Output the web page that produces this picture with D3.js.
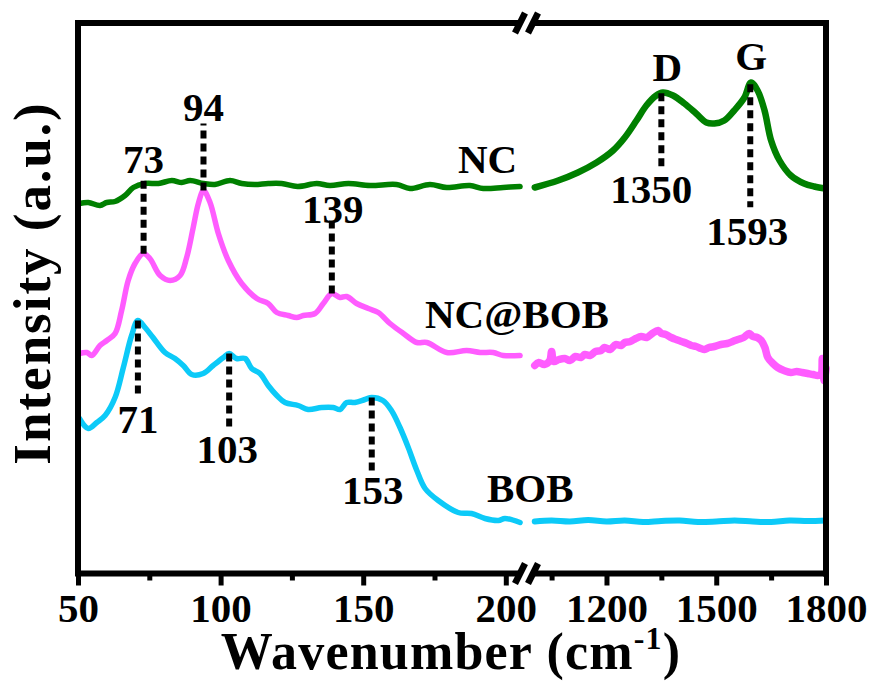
<!DOCTYPE html>
<html>
<head>
<meta charset="utf-8">
<script src="https://cdn.jsdelivr.net/npm/d3@7"></script>
<style>
  body { margin: 0; background: #fff; }
  svg text { font-family: "Times New Roman", Times, "Liberation Serif", serif; font-weight: bold; fill: #000; }
</style>
</head>
<body>
<svg id="chart" width="872" height="684"></svg>
<script>
// ---- Raman spectra (intensity in arbitrary units, curves already offset) ----
// Low-wavenumber window (50-205 cm-1)
const ncLowW = [50.5, 53.6, 57.7, 60.1, 63, 66.5, 69.4, 73.5, 78.2, 82.9, 86.4, 89.3, 94, 98, 103.3, 107.4, 112, 116.7, 121.4, 127, 133.7, 138.3, 144.8, 152.4, 161.7, 166.4, 173.4, 179.3, 187.4, 192.1, 199.1, 205];
const ncLowI = [370, 371, 368, 371, 372, 378, 386, 390, 390, 393, 391, 393, 390, 389, 393, 390, 389, 390, 390, 387, 390, 388, 390, 388, 389, 385, 389, 386, 388, 385, 386, 387];

const ncbobLowW = [50.5, 53.1, 54.8, 57.7, 60.1, 63, 65.3, 67.6, 70, 72.9, 75.2, 78.8, 82.3, 85.8, 88.1, 90.4, 92.2, 94, 96.3, 99.2, 102.7, 107.4, 112.7, 116.7, 119.7, 123.7, 126.7, 129, 133.1, 136, 139, 141.9, 144.2, 147.7, 151.8, 155.3, 159.4, 164.1, 168.8, 172.3, 179.3, 186.3, 191, 195.6, 199.1, 205];
const ncbobLowI = [220, 221, 218, 228, 233, 240, 263, 293, 310, 320, 315, 298, 293, 298, 316, 346, 370, 383, 371, 340, 313, 290, 275, 270, 261, 258, 256, 258, 260, 270, 280, 276, 277, 270, 265, 261, 250, 240, 231, 231, 221, 223, 221, 221, 218, 218];

const bobLowW = [50.5, 53.6, 56.6, 59.5, 63, 65.9, 68.8, 71, 73.5, 76.3, 80.5, 84, 86.9, 89.9, 93.9, 97.4, 101, 103, 105.6, 108.6, 110.9, 113.8, 116.7, 119.7, 122.6, 127.2, 130.7, 135.4, 139.5, 141.9, 144.2, 147.1, 150.6, 153, 156.9, 159.9, 162.9, 165.8, 168.8, 171.7, 176.3, 183.3, 188, 192.7, 197.4, 199.7, 205];
const bobLowI = [155, 145, 151, 158, 176, 206, 238, 253, 246, 236, 221, 215, 208, 199, 200, 208, 216, 220, 215, 215, 205, 200, 188, 178, 171, 168, 164, 166, 166, 164, 171, 171, 174, 176, 173, 163, 146, 126, 103, 85, 73, 61, 60, 55, 53, 55, 51];

// High-wavenumber window (1000-1800 cm-1)
const ncHighW = [1004, 1068, 1122, 1173, 1218, 1250, 1282, 1309, 1336, 1354, 1382, 1413, 1445, 1473, 1495, 1522, 1549, 1577, 1595, 1613, 1632, 1650, 1673, 1704, 1740, 1768, 1798];
const ncHighI = [386, 393, 401, 411, 423, 436, 453, 468, 478, 481, 478, 470, 460, 451, 450, 453, 463, 476, 491, 483, 463, 433, 413, 398, 390, 387, 385];

const ncbobHighW = [1004, 1015, 1030, 1045, 1050, 1056, 1070, 1086, 1100, 1115, 1130, 1141, 1155, 1170, 1185, 1195, 1210, 1225, 1240, 1250, 1265, 1280, 1295, 1310, 1325, 1341, 1350, 1362, 1377, 1390, 1405, 1420, 1432, 1445, 1458, 1468, 1480, 1495, 1513, 1530, 1545, 1559, 1575, 1590, 1600, 1612, 1623, 1633, 1641, 1655, 1668, 1685, 1704, 1720, 1735, 1750, 1765, 1777, 1786, 1790, 1795, 1800];
const ncbobHighI = [208, 211, 209, 213, 222, 212, 214, 215, 213, 217, 216, 219, 218, 222, 223, 226, 224, 229, 228, 231, 232, 235, 237, 236, 240, 243, 240, 239, 236, 234, 232, 230, 228, 227, 225, 224, 226, 227, 229, 230, 232, 234, 236, 240, 237, 236, 233, 226, 216, 210, 206, 203, 201, 202, 201, 200, 199, 198, 199, 215, 193, 205];

const bobHighW = [1004, 1050, 1100, 1150, 1200, 1250, 1300, 1350, 1400, 1450, 1500, 1550, 1600, 1650, 1700, 1750, 1800];
const bobHighI = [52, 53, 52, 53.5, 52, 53, 51.5, 52.5, 53, 51.5, 52, 53, 52, 51.5, 53, 52.5, 53];

// Axis ticks
const lowMajor = [50, 100, 150, 200];
const lowMinor = [75, 125, 175];
const highMajor = [1200, 1500, 1800];
const highMinor = [1050, 1350, 1650];

// Sample names and annotated peak positions
const sampleNames = ["NC", "NC@BOB", "BOB"];
const peakLabels = [73, 94, 139, 71, 103, 153, 1350, 1593];
const bandNames = ["D", "G"];

// ---- layout ----
const svg = d3.select("#chart");
const plotL = 78, plotR = 826, plotT = 23, plotB = 573.5;
const colors = { NC: "#008000", "NC@BOB": "#ff5cff", BOB: "#0ccaf8" };

const xLow = d3.scaleLinear().domain([50, 205]).range([plotL, plotL + 155 * 2.852]);
const xHigh = d3.scaleLinear().domain([1000, 1800]).range([533.3, plotR]);
const y = d3.scaleLinear().domain([0, 550.5]).range([plotB, plotT]);

const zip = (ws, is) => ws.map((w, i) => ({ w, v: is[i] }));
const series = [
  { name: "NC", low: zip(ncLowW, ncLowI), high: zip(ncHighW, ncHighI), wLow: 5.5, wHigh: 6.5 },
  { name: "NC@BOB", low: zip(ncbobLowW, ncbobLowI), high: zip(ncbobHighW, ncbobHighI), wLow: 5.5, wHigh: 7.5 },
  { name: "BOB", low: zip(bobLowW, bobLowI), high: zip(bobHighW, bobHighI), wLow: 5.5, wHigh: 6 }
];

const lineLow = d3.line().x(d => xLow(d.w)).y(d => y(d.v)).curve(d3.curveCatmullRom.alpha(0.5));
const lineHigh = d3.line().x(d => xHigh(d.w)).y(d => y(d.v)).curve(d3.curveCatmullRom.alpha(0.5));

const curves = svg.append("g");
series.forEach(s => {
  curves.append("path").attr("d", lineLow(s.low))
    .attr("fill", "none").attr("stroke", colors[s.name])
    .attr("stroke-width", s.wLow).attr("stroke-linejoin", "round").attr("stroke-linecap", "round");
  curves.append("path").attr("d", lineHigh(s.high))
    .attr("fill", "none").attr("stroke", colors[s.name])
    .attr("stroke-width", s.wHigh).attr("stroke-linejoin", "round").attr("stroke-linecap", "round");
});

// value of a curve at a wavenumber (linear between read points)
function valueAt(pts, w) {
  for (let i = 1; i < pts.length; i++) {
    if (pts[i].w >= w) {
      const a = pts[i - 1], b = pts[i];
      return a.v + (b.v - a.v) * (w - a.w) / (b.w - a.w);
    }
  }
  return pts[pts.length - 1].v;
}

// ---- peak markers ----
const marks = [
  { peak: 73, s: 1, part: "low", dir: -1, len: 73, lab: 8, dx: 0 },
  { peak: 94, s: 1, part: "low", dir: -1, len: 67, lab: 3, dx: 0 },
  { peak: 139, s: 1, part: "low", dir: -1, len: 73, lab: -2, dx: 1 },
  { peak: 71, s: 2, part: "low", dir: 1, len: 78, lab: 34, dx: 0 },
  { peak: 103, s: 2, part: "low", dir: 1, len: 75, lab: 34, dx: -2 },
  { peak: 153, s: 2, part: "low", dir: 1, len: 75, lab: 31, dx: 1 },
  { peak: 1350, s: 0, part: "high", dir: 1, len: 76, lab: 34, dx: -10 },
  { peak: 1593, s: 0, part: "high", dir: 1, len: 123, lab: 38, dx: -3 }
];
const ann = svg.append("g");
marks.forEach((m, i) => {
  const xs = m.part === "low" ? xLow : xHigh;
  const px = xs(m.peak);
  const py = y(valueAt(series[m.s][m.part], m.peak));
  const py2 = py + m.dir * m.len;
  ann.append("line").attr("x1", px).attr("x2", px).attr("y1", py).attr("y2", py2)
    .attr("stroke", "#000").attr("stroke-width", 6).attr("stroke-dasharray", "8,5");
  ann.append("text").attr("x", px + m.dx).attr("y", py2 + m.dir * m.lab)
    .attr("text-anchor", "middle").attr("font-size", 41).text(peakLabels[i]);
});

// D and G band names above the carbon peaks
[[1350, 6, -12], [1593, 1, -14]].forEach(([w, dx, dy], i) => {
  ann.append("text").attr("x", xHigh(w) + dx).attr("y", y(valueAt(series[0].high, w)) + dy)
    .attr("text-anchor", "middle").attr("font-size", 41).text(bandNames[i]);
});

// sample names
[[458, 173], [425, 328], [487, 502]].forEach(([x0, y0], i) => {
  ann.append("text").attr("x", x0).attr("y", y0).attr("font-size", 41).text(sampleNames[i]);
});

// ---- frame and broken axis ----
const frame = svg.append("g").attr("stroke", "#000").attr("stroke-width", 6).attr("fill", "none");
frame.append("line").attr("x1", plotL).attr("x2", plotL).attr("y1", plotT - 3).attr("y2", plotB + 3);
frame.append("line").attr("x1", plotR).attr("x2", plotR).attr("y1", plotT - 3).attr("y2", plotB + 3);
[plotT, plotB].forEach(yy => {
  frame.append("line").attr("x1", plotL).attr("x2", 519).attr("y1", yy).attr("y2", yy);
  frame.append("line").attr("x1", 534).attr("x2", plotR).attr("y1", yy).attr("y2", yy);
  [520, 533].forEach(cx => {
    frame.append("line").attr("x1", cx - 5).attr("y1", yy + 10).attr("x2", cx + 5).attr("y2", yy - 10)
      .attr("stroke-width", 6.5);
  });
});

function styleAxis(g, major) {
  g.select(".domain").remove();
  g.selectAll(".tick line").attr("stroke", "#000").attr("stroke-width", 5);
  g.selectAll(".tick text").attr("y", 48).attr("dy", 0)
    .attr("font-size", 41).attr("font-family", null).attr("fill", "#000");
  if (!major) g.selectAll(".tick text").remove();
}
const fmt = d3.format("d");
svg.append("g").attr("transform", `translate(0,${plotB})`)
  .call(d3.axisBottom(xLow).tickValues(lowMinor).tickSize(7).tickSizeOuter(0))
  .call(g => styleAxis(g, false));
svg.append("g").attr("transform", `translate(0,${plotB})`)
  .call(d3.axisBottom(xLow).tickValues(lowMajor).tickSize(12).tickSizeOuter(0).tickFormat(fmt))
  .call(g => styleAxis(g, true));
svg.append("g").attr("transform", `translate(0,${plotB})`)
  .call(d3.axisBottom(xHigh).tickValues(highMinor).tickSize(7).tickSizeOuter(0))
  .call(g => styleAxis(g, false));
svg.append("g").attr("transform", `translate(0,${plotB})`)
  .call(d3.axisBottom(xHigh).tickValues(highMajor).tickSize(12).tickSizeOuter(0).tickFormat(fmt))
  .call(g => styleAxis(g, true));

// ---- axis titles ----
const xt = svg.append("text").attr("x", 451).attr("y", 669).attr("text-anchor", "middle")
  .attr("font-size", 52).attr("letter-spacing", 1.2);
xt.append("tspan").text("Wavenumber (cm");
xt.append("tspan").attr("dy", -20).attr("font-size", 32).text("-1");
xt.append("tspan").attr("dy", 20).text(")");

svg.append("text").attr("transform", "translate(50,283) rotate(-90)")
  .attr("text-anchor", "middle").attr("font-size", 53).attr("letter-spacing", 2).text("Intensity (a.u.)");
</script>
</body>
</html>
